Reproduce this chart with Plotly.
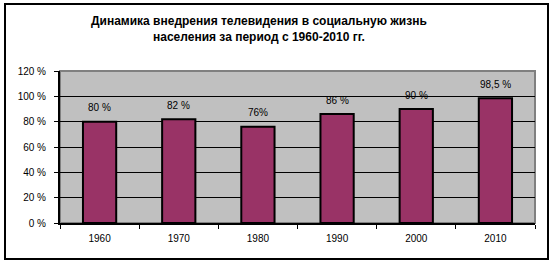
import plotly.graph_objects as go

years = ["1960", "1970", "1980", "1990", "2000", "2010"]
values = [80, 82, 76, 86, 90, 98.5]
labels = ["80 %", "82 %", "76%", "86 %", "90 %", "98,5 %"]
y_ticks = [0, 20, 40, 60, 80, 100, 120]
y_ticktext = ["0 %", "20 %", "40 %", "60 %", "80 %", "100 %", "120 %"]
title_text = "<b>Динамика внедрения телевидения в социальную жизнь<br>населения за период с 1960-2010 гг.</b>"

W, H = 553, 264
L, R, T, B = 60, 18, 71, 41
pw, ph = W - L - R, H - T - B

def px_x(px):
    return (px - L) / pw

def px_y(py):
    return (H - B - py) / ph

fig = go.Figure()
fig.add_trace(go.Bar(
    x=years, y=values,
    marker=dict(color="#993366", line=dict(color="black", width=2)),
    width=0.42,
    hoverinfo="skip",
))

for i, (v, lab) in enumerate(zip(values, labels)):
    fig.add_annotation(x=i, y=v, text=lab, showarrow=False, yshift=14,
                       font=dict(family="Liberation Sans, Arial", size=10, color="black"))

# plot area border (gray top/right)
fig.add_shape(type="rect", xref="paper", yref="paper", x0=0, x1=1, y0=0, y1=1,
              line=dict(color="#808080", width=2), layer="below")
# outer chart border
fig.add_shape(type="rect", xref="paper", yref="paper",
              x0=px_x(5), x1=px_x(548), y0=px_y(259), y1=px_y(4),
              line=dict(color="black", width=2))

fig.add_annotation(xref="paper", yref="paper", x=px_x(259), y=px_y(28.5),
                   text=title_text, showarrow=False, align="center",
                   font=dict(family="Liberation Sans, Arial", size=12, color="black"),
                   xanchor="center", yanchor="middle")

fig.update_layout(
    width=W, height=H,
    margin=dict(l=L, r=R, t=T, b=B, pad=0),
    paper_bgcolor="white",
    plot_bgcolor="#C0C0C0",
    showlegend=False,
    font=dict(family="Liberation Sans, Arial", size=10, color="black"),
)
fig.update_xaxes(
    type="category", range=[-0.5, len(years) - 0.5], autorange=False,
    showgrid=False, showline=True, linecolor="black", linewidth=2,
    ticks="outside", tickson="boundaries", ticklen=4, tickcolor="black", tickwidth=1,
    tickfont=dict(size=10, color="black"), tickangle=0, ticklabelstandoff=5,
)
fig.update_yaxes(
    range=[0, 120], autorange=False, tickvals=y_ticks, ticktext=y_ticktext,
    showgrid=True, gridcolor="black", gridwidth=1,
    showline=True, linecolor="black", linewidth=2,
    ticks="outside", ticklen=4, tickcolor="black", tickwidth=1,
    tickfont=dict(size=10, color="black"), zeroline=False, ticklabelstandoff=6,
)

fig.write_html("out.html")
